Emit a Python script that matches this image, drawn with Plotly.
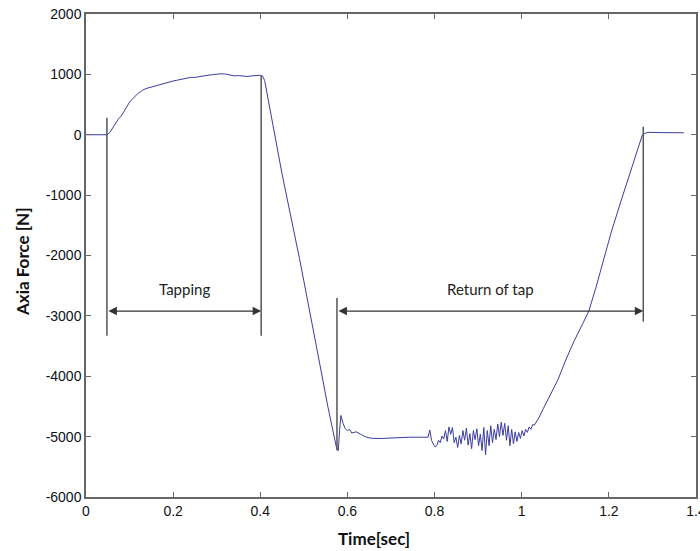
import plotly.graph_objects as go

# ---- data ----
time_s = [0.0, 0.048, 0.055, 0.06, 0.065, 0.07, 0.075, 0.08, 0.085, 0.09, 0.095, 0.1, 0.105, 0.11,
          0.115, 0.12, 0.125, 0.13, 0.14, 0.15, 0.16, 0.17, 0.18, 0.19, 0.2, 0.21, 0.22, 0.23,
          0.24, 0.25, 0.26, 0.27, 0.28, 0.29, 0.30, 0.31, 0.32, 0.33, 0.34, 0.35, 0.36, 0.37,
          0.38, 0.39, 0.40, 0.405,
          0.41, 0.45, 0.49, 0.53, 0.555, 0.576,
          0.579, 0.582, 0.585, 0.59, 0.595, 0.60, 0.605, 0.61, 0.62, 0.63, 0.64, 0.65, 0.66,
          0.68, 0.70, 0.72, 0.74, 0.76, 0.78,
          0.785, 0.789, 0.793, 0.797, 0.801, 0.805, 0.809, 0.813, 0.817, 0.821, 0.825, 0.829,
          0.833, 0.837, 0.841, 0.845, 0.849, 0.853, 0.857, 0.861, 0.865, 0.869, 0.873, 0.877,
          0.881, 0.885, 0.889, 0.893, 0.897, 0.901, 0.905, 0.909, 0.913, 0.917, 0.921, 0.925,
          0.929, 0.933, 0.937, 0.941, 0.945, 0.949, 0.953, 0.957, 0.961, 0.965, 0.969, 0.973,
          0.977, 0.981, 0.985, 0.989, 0.993, 0.997, 1.001, 1.005, 1.009, 1.013, 1.017, 1.021,
          1.025, 1.029, 1.033,
          1.04, 1.05, 1.06, 1.07, 1.083, 1.1, 1.12, 1.14, 1.154, 1.17, 1.19, 1.205, 1.23, 1.25,
          1.267, 1.277, 1.285, 1.292, 1.32, 1.35, 1.372]

force_n = [0, 0, 40, 100, 160, 220, 270, 300, 360, 440, 480, 540, 580, 620,
           650, 690, 710, 740, 770, 790, 815, 840, 860, 875, 890, 905, 920, 935,
           950, 950, 965, 975, 985, 995, 1005, 1010, 1005, 995, 975, 980, 970, 965,
           975, 985, 985, 975,
           900, -650, -2050, -3550, -4500, -5220,
           -5230, -4900, -4650, -4780, -4870, -4900, -4880, -4940, -4920, -4960, -5000, -5020, -5030,
           -5030, -5020, -5020, -5010, -5010, -5015,
           -5010, -4890, -5060, -5120, -5170, -5150, -5060, -5100, -4990, -5040, -4900, -5080,
           -4840, -4960, -4850, -5100, -5010, -5180, -4980, -5120, -4900, -5060, -4860, -5140,
           -4950, -5200, -4900, -5050, -4870, -5150, -4960, -5230, -4850, -5300, -4900, -5150,
           -4820, -5100, -4880, -5050, -4790, -5000, -4760, -4980, -4780, -5060, -4820, -5150,
           -4880, -5120, -4920, -5080, -4930, -5030, -4900, -4990, -4880, -4930, -4840, -4880,
           -4800, -4810, -4770,
           -4680, -4530, -4380, -4230, -4060, -3750, -3420, -3130, -2920, -2540, -2010, -1625, -1050, -620,
           -250, 0, 30, 40, 35, 38, 33]

x_ticks = [0, 0.2, 0.4, 0.6, 0.8, 1.0, 1.2, 1.4]
x_tick_labels = ["0", "0.2", "0.4", "0.6", "0.8", "1", "1.2", "1.4"]
y_ticks = [2000, 1000, 0, -1000, -2000, -3000, -4000, -5000, -6000]
y_tick_labels = ["2000", "1000", "0", "-1000", "-2000", "-3000", "-4000", "-5000", "-6000"]

# phase markers: (time, top, bottom)
marker_times = [0.048, 0.402, 0.576, 1.279]
marker_tops = [282, 978, -2703, 133]
marker_bottoms = [-3330, -3330, -5220, -3096]

phase_labels = ["Tapping", "Return of tap"]
phase_starts = [0.048, 0.576]
phase_ends = [0.402, 1.279]
arrow_level = -2920
label_level = -2560

L, R, T, B = 86, 696, 14, 497
W, H = 700, 551

fig = go.Figure()
fig.add_trace(go.Scatter(x=time_s, y=force_n, mode="lines",
                         line=dict(color="#3c3ca0", width=1), showlegend=False))

for t, top, bot in zip(marker_times, marker_tops, marker_bottoms):
    fig.add_shape(type="line", x0=t, x1=t, y0=bot, y1=top, xref="x", yref="y",
                  line=dict(color="#555555", width=1.5))

for lab, s, e in zip(phase_labels, phase_starts, phase_ends):
    fig.add_annotation(x=e, y=arrow_level, ax=s, ay=arrow_level, xref="x", yref="y",
                       axref="x", ayref="y", text="", showarrow=True, arrowhead=2,
                       arrowside="end+start", arrowsize=1.3, arrowwidth=1.3, arrowcolor="#333333",
                       startarrowhead=2, startarrowsize=1.3)
    fig.add_annotation(x=(s + e) / 2, y=label_level, xref="x", yref="y", text=lab,
                       showarrow=False, font=dict(family="Lato", size=15, color="#222222"))

# axis titles placed as paper annotations
fig.add_annotation(x=(374 - L) / (R - L), y=-(538 - B) / (B - T), xref="paper", yref="paper",
                   text="<b>Time[sec]</b>", showarrow=False, xanchor="center", yanchor="middle",
                   font=dict(family="Lato", size=17, color="#111111"))
fig.add_annotation(x=-(L - 22) / (R - L), y=((B + T) / 2 - 262) / (B - T) + 0.5,
                   xref="paper", yref="paper", text="<b>Axia Force [N]</b>", showarrow=False,
                   textangle=-90, xanchor="center", yanchor="middle",
                   font=dict(family="Lato", size=17, color="#111111"))

axis_common = dict(showgrid=False, zeroline=False, showline=True, linecolor="#666666",
                   linewidth=1.5, mirror="ticks", ticks="inside", ticklen=5, tickcolor="#666666",
                   automargin=False, ticklabeloverflow="allow",
                   tickfont=dict(family="Liberation Sans, Arial", size=14, color="#111111"))

fig.update_xaxes(range=[0, 1.4], tickvals=x_ticks, ticktext=x_tick_labels, **axis_common)
fig.update_yaxes(range=[-6000, 2000], tickvals=y_ticks, ticktext=y_tick_labels, **axis_common)

fig.update_layout(width=W, height=H,
                  margin=dict(l=L, r=W - R, t=T, b=H - B, autoexpand=False),
                  plot_bgcolor="white", paper_bgcolor="white")

fig.write_html("out.html", config={"displayModeBar": False},
               post_script="document.body.style.margin='0';document.body.style.overflow='hidden';")
